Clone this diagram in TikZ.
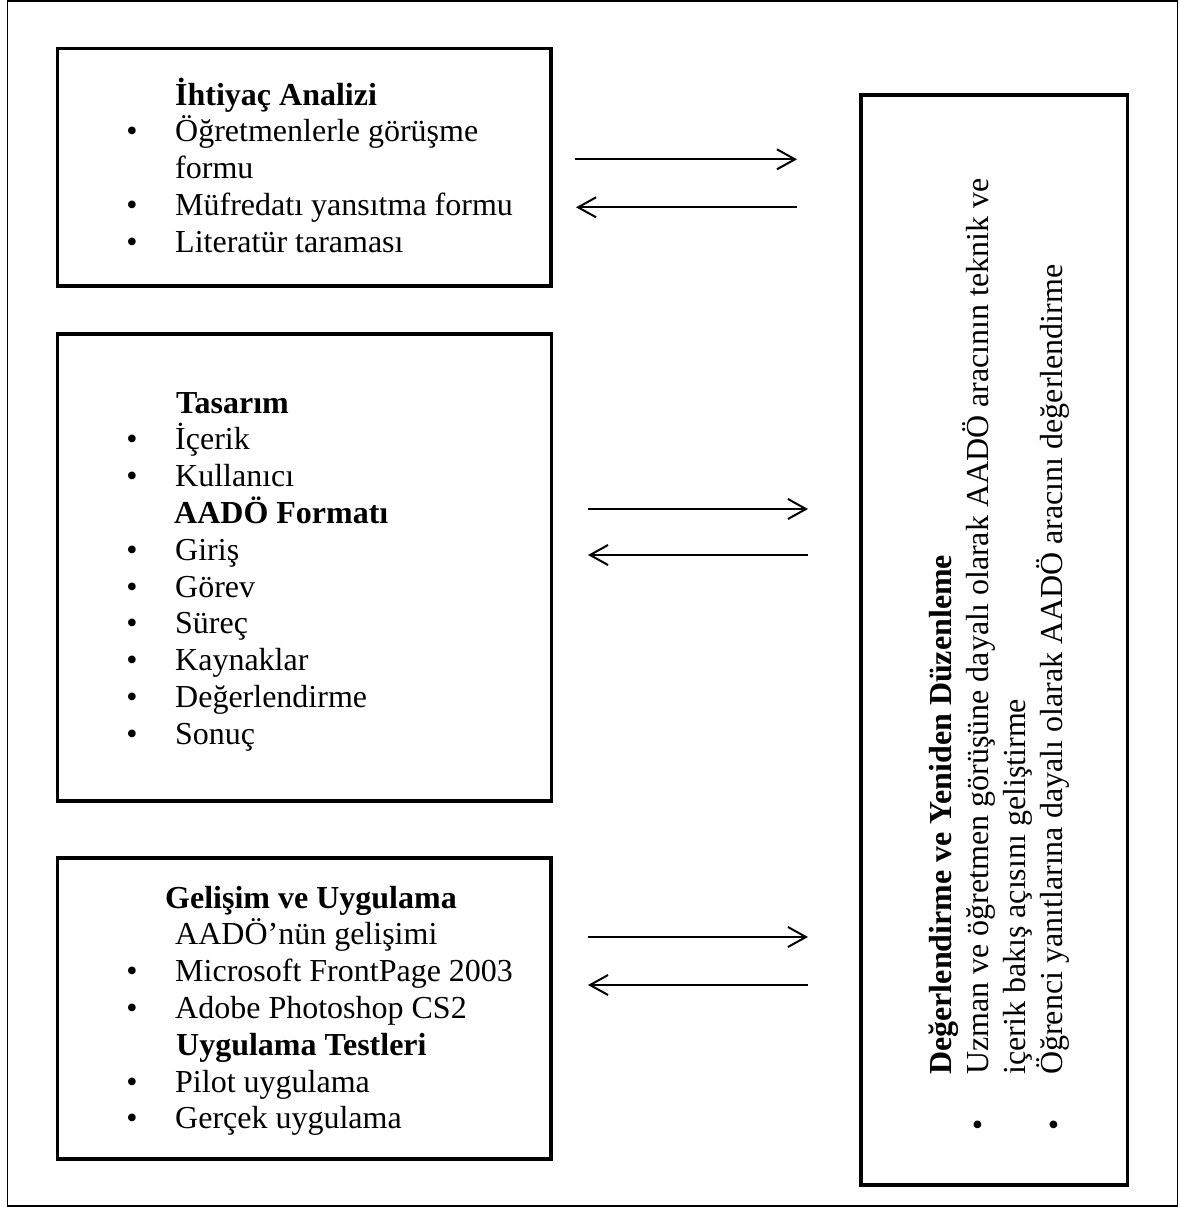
\documentclass[tikz,border=0pt]{standalone}
\usepackage{fontspec}
\setmainfont{Liberation Serif}
\usetikzlibrary{arrows.meta}
\begin{document}
\begin{tikzpicture}[x=1pt,y=-1pt,
  frame/.style={draw, line width=1.5pt, inner sep=0pt},
  stage/.style={draw, line width=3.5pt, inner sep=0pt},
  txt/.style={anchor=base west, inner sep=0pt, font=\fontsize{32}{37}\selectfont},
  head/.style={anchor=base west, inner sep=0pt, font=\fontsize{32}{37}\selectfont\bfseries},
  dot/.style={anchor=base, inner sep=0pt, font=\fontsize{32}{37}\selectfont},
  flow/.style={line width=2pt, -{Straight Barb[length=18pt,width=20pt,line width=2pt]}}]
\useasboundingbox (0,0) rectangle (1180,1207);

% outer frame
\node[frame, minimum width=1170.4pt, minimum height=1205pt] (page) at (592.5,603.5) {};

% the four stage boxes
\node[stage, minimum width=493.5pt, minimum height=237.5pt] (need) at (304.25,167.25) {};
\node[stage, minimum width=494pt, minimum height=467pt] (design) at (304.5,567.5) {};
\node[stage, minimum width=493.5pt, minimum height=301pt] (dev) at (304.25,1008.5) {};
\node[stage, minimum width=266.5pt, minimum height=1090pt] (eval) at (994.25,640) {};

% Needs analysis
\node[head] (needH) at (175,105) {İhtiyaç Analizi};
\node[dot] (needB1) at (132,141.8) {•};
\node[txt] (needT1) at (175,141.8) {Öğretmenlerle görüşme};
\node[txt] (needT1b) at (175,178.6) {formu};
\node[dot] (needB2) at (132,215.4) {•};
\node[txt] (needT2) at (175,215.4) {Müfredatı yansıtma formu};
\node[dot] (needB3) at (132,252.2) {•};
\node[txt] (needT3) at (175,252.2) {Literatür taraması};

% Design
\node[head] (desH) at (176,413) {Tasarım};
\node[dot] (desB1) at (132,449.8) {•};
\node[txt] (desT1) at (175,449.8) {İçerik};
\node[dot] (desB2) at (132,486.6) {•};
\node[txt] (desT2) at (175,486.6) {Kullanıcı};
\node[head] (desH2) at (174,523.4) {AADÖ Formatı};
\node[dot] (desB3) at (132,560.2) {•};
\node[txt] (desT3) at (175,560.2) {Giriş};
\node[dot] (desB4) at (132,597) {•};
\node[txt] (desT4) at (175,597) {Görev};
\node[dot] (desB5) at (132,633.8) {•};
\node[txt] (desT5) at (175,633.8) {Süreç};
\node[dot] (desB6) at (132,670.6) {•};
\node[txt] (desT6) at (175,670.6) {Kaynaklar};
\node[dot] (desB7) at (132,707.4) {•};
\node[txt] (desT7) at (175,707.4) {Değerlendirme};
\node[dot] (desB8) at (132,744.2) {•};
\node[txt] (desT8) at (175,744.2) {Sonuç};

% Development and implementation
\node[head] (devH) at (165,908) {Gelişim ve Uygulama};
\node[txt] (devT0) at (175,944.8) {AADÖ’nün gelişimi};
\node[dot] (devB1) at (132,981.6) {•};
\node[txt] (devT1) at (175,981.6) {Microsoft FrontPage 2003};
\node[dot] (devB2) at (132,1018.4) {•};
\node[txt] (devT2) at (175,1018.4) {Adobe Photoshop CS2};
\node[head] (devH2) at (176,1055.2) {Uygulama Testleri};
\node[dot] (devB3) at (132,1092) {•};
\node[txt] (devT3) at (175,1092) {Pilot uygulama};
\node[dot] (devB4) at (132,1128.8) {•};
\node[txt] (devT4) at (175,1128.8) {Gerçek uygulama};

% Evaluation and revision (rotated)
\node[head, rotate=90] (evH) at (951,1075) {Değerlendirme ve Yeniden Düzenleme};
\node[txt, rotate=90] (evT1) at (988,1075) {Uzman ve öğretmen görüşüne dayalı olarak AADÖ aracının teknik ve};
\node[txt, rotate=90] (evT1b) at (1025,1075) {içerik bakış açısını geliştirme};
\node[txt, rotate=90] (evT2) at (1062,1075) {Öğrenci yanıtlarına dayalı olarak AADÖ aracını değerlendirme};
\node[dot, rotate=90] (evB1) at (988,1125) {•};
\node[dot, rotate=90] (evB2) at (1064,1125) {•};

% connector end points
\coordinate (n1) at (575,159.3);   \coordinate (e1) at (797,159.3);
\coordinate (e2) at (797,207.3);   \coordinate (n2) at (576,207.3);
\coordinate (d1) at (588,509);     \coordinate (e3) at (808,509);
\coordinate (e4) at (808,555);     \coordinate (d2) at (588,555);
\coordinate (v1) at (588,937);     \coordinate (e5) at (808,937);
\coordinate (e6) at (808,985);     \coordinate (v2) at (588,985);

\draw[flow] (n1) -- (e1);
\draw[flow] (e2) -- (n2);
\draw[flow] (d1) -- (e3);
\draw[flow] (e4) -- (d2);
\draw[flow] (v1) -- (e5);
\draw[flow] (e6) -- (v2);
\end{tikzpicture}
\end{document}
